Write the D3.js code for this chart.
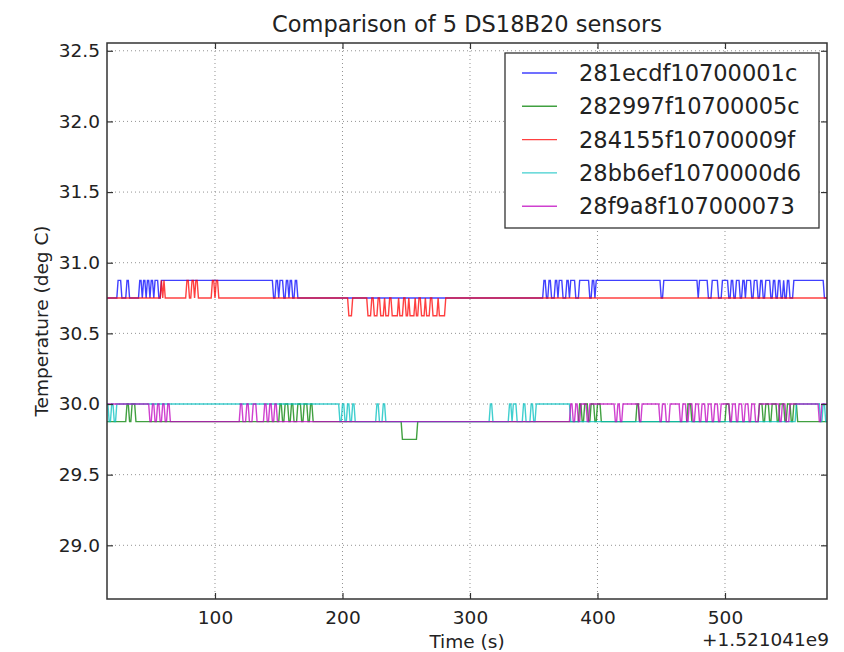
<!DOCTYPE html>
<html>
  <head>
    <meta charset="utf-8">
    <script src="https://d3js.org/d3.v7.min.js"></script>
    <style>
      body { margin: 0; background: #fff; }
      text { font-family: "DejaVu Sans", sans-serif; fill: #222; }
    </style>
  </head>
  <body>
    <svg id="vis"></svg>
  <script>
    // Sensor ids, in plotting order, and their matplotlib classic colours
    var sensors = ["281ecdf10700001c", "282997f10700005c", "284155f10700009f", "28bb6ef1070000d6", "28f9a8f107000073"]
    var colors = ["#0000ff", "#008000", "#ff0000", "#00bfbf", "#bf00bf"]

    var xTicks = [100, 200, 300, 400, 500]
    var yTicks = [29.0, 29.5, 30.0, 30.5, 31.0, 31.5, 32.0, 32.5]
    var xDomain = [15.3, 580]
    var yDomain = [28.62, 32.555]

    // readings as held segments: [t start, t end, temperature] (t = seconds after 1.521041e9)
    var blue = [[15,23,30.75],[24,26,30.875],[27,30,30.75],[31,32,30.875],[33,40,30.75],[41,42,30.875],[43,43,30.75],[44,45,30.875],[46,46,30.75],[47,48,30.875],[49,49,30.75],[50,51,30.875],[52,52,30.75],[53,55,30.875],[56,57,30.75],[58,145,30.875],[146,147,30.75],[148,149,30.875],[150,150,30.75],[151,153,30.875],[154,155,30.75],[156,157,30.875],[158,158,30.75],[159,160,30.875],[161,162,30.75],[163,164,30.875],[165,357,30.75],[358,359,30.875],[360,361,30.75],[362,363,30.875],[364,366,30.75],[367,368,30.875],[369,369,30.75],[370,372,30.875],[373,375,30.75],[376,377,30.875],[378,378,30.75],[379,382,30.875],[383,385,30.75],[386,393,30.875],[394,395,30.75],[396,397,30.875],[398,398,30.75],[399,449,30.875],[450,451,30.75],[452,478,30.875],[479,479,30.75],[480,486,30.875],[487,489,30.75],[490,494,30.875],[495,497,30.75],[498,502,30.875],[503,504,30.75],[505,506,30.875],[507,508,30.75],[509,511,30.875],[512,513,30.75],[514,515,30.875],[516,516,30.75],[517,520,30.875],[521,522,30.75],[523,525,30.875],[526,527,30.75],[528,529,30.875],[530,531,30.75],[532,535,30.875],[536,537,30.75],[538,539,30.875],[540,541,30.75],[542,543,30.875],[544,545,30.75],[546,546,30.875],[547,548,30.75],[549,550,30.875],[551,553,30.75],[554,577,30.875],[578,580,30.75]]
    var green = [[15,30,29.875],[31,32,30.0],[33,34,29.875],[35,37,30.0],[38,150,29.875],[151,152,30.0],[153,154,29.875],[155,157,30.0],[158,159,29.875],[160,161,30.0],[162,164,29.875],[165,167,30.0],[168,169,29.875],[170,172,30.0],[173,174,29.875],[175,176,30.0],[177,246,29.875],[247,258,29.75],[259,385,29.875],[386,387,30.0],[388,389,29.875],[390,392,30.0],[393,394,29.875],[395,397,30.0],[398,399,29.875],[400,402,30.0],[403,430,29.875],[431,432,30.0],[433,470,29.875],[471,473,30.0],[474,500,29.875],[501,503,30.0],[504,526,29.875],[527,529,30.0],[530,531,29.875],[532,534,30.0],[535,536,29.875],[537,540,30.0],[541,542,29.875],[543,546,30.0],[547,548,29.875],[549,551,30.0],[552,553,29.875],[554,556,30.0],[557,580,29.875]]
    var red = [[15,57,30.75],[58,58,30.875],[59,59,30.75],[60,60,30.875],[61,77,30.75],[78,79,30.875],[80,81,30.75],[82,83,30.875],[84,84,30.75],[85,86,30.875],[87,97,30.75],[98,99,30.875],[100,100,30.75],[101,102,30.875],[103,204,30.75],[205,207,30.625],[208,219,30.75],[220,222,30.625],[223,224,30.75],[225,227,30.625],[228,229,30.75],[230,232,30.625],[233,233,30.75],[234,236,30.625],[237,238,30.75],[239,243,30.625],[244,244,30.75],[245,247,30.625],[248,249,30.75],[250,251,30.625],[252,252,30.75],[253,256,30.625],[257,257,30.75],[258,259,30.625],[260,261,30.75],[262,264,30.625],[265,265,30.75],[266,268,30.625],[269,270,30.75],[271,274,30.625],[275,275,30.75],[276,280,30.625],[281,580,30.75]]
    var cyan = [[15,16,30.0],[17,18,29.875],[19,20,30.0],[21,22,29.875],[23,197,30.0],[198,199,29.875],[200,201,30.0],[202,203,29.875],[204,205,30.0],[206,207,29.875],[208,209,30.0],[210,226,29.875],[227,228,30.0],[229,231,29.875],[232,233,30.0],[234,315,29.875],[316,317,30.0],[318,330,29.875],[331,332,30.0],[333,333,29.875],[334,336,30.0],[337,341,29.875],[342,343,30.0],[344,347,29.875],[348,349,30.0],[350,351,29.875],[352,378,30.0],[379,555,29.875],[556,574,30.0],[575,576,29.875],[577,578,30.0],[579,580,29.875]]
    var magenta = [[15,48,30.0],[49,50,29.875],[51,52,30.0],[53,54,29.875],[55,56,30.0],[57,58,29.875],[59,60,30.0],[61,62,29.875],[63,64,30.0],[65,119,29.875],[120,121,30.0],[122,124,29.875],[125,126,30.0],[127,129,29.875],[130,132,30.0],[133,138,29.875],[139,140,30.0],[141,142,29.875],[143,144,30.0],[145,146,29.875],[147,148,30.0],[149,378,29.875],[379,380,30.0],[381,382,29.875],[383,384,30.0],[385,386,29.875],[387,391,30.0],[392,393,29.875],[394,413,30.0],[414,415,29.875],[416,417,30.0],[418,419,29.875],[420,432,30.0],[433,434,29.875],[435,448,30.0],[449,450,29.875],[451,453,30.0],[454,456,29.875],[457,464,30.0],[465,466,29.875],[467,469,30.0],[470,471,29.875],[472,474,30.0],[475,476,29.875],[477,479,30.0],[480,481,29.875],[482,484,30.0],[485,486,29.875],[487,489,30.0],[490,491,29.875],[492,494,30.0],[495,496,29.875],[497,503,30.0],[504,505,29.875],[506,508,30.0],[509,510,29.875],[511,513,30.0],[514,515,29.875],[516,518,30.0],[519,520,29.875],[521,523,30.0],[524,526,29.875],[527,542,30.0],[543,544,29.875],[545,547,30.0],[548,550,29.875],[551,573,30.0],[574,575,29.875],[576,580,30.0]]
    var series = [blue, green, red, cyan, magenta]

    // figure layout
    var W = 844, H = 652
    var margin = {top: 43, right: 17, bottom: 53, left: 107}
    var width = W - margin.left - margin.right
    var height = H - margin.top - margin.bottom

    var svg = d3.select("#vis").attr("width", W).attr("height", H)
    svg.append("rect").attr("width", W).attr("height", H).attr("fill", "#fff")
    var g = svg.append("g").attr("transform", "translate(" + margin.left + "," + margin.top + ")")

    var x = d3.scaleLinear().domain(xDomain).range([0, width])
    var y = d3.scaleLinear().domain(yDomain).range([height, 0])

    // dotted grid
    g.selectAll("line.gx").data(xTicks).enter().append("line")
      .attr("x1", d => x(d)).attr("x2", d => x(d)).attr("y1", 0).attr("y2", height)
      .attr("stroke", "#777").attr("stroke-width", 0.8).attr("stroke-dasharray", "1,3")
    g.selectAll("line.gy").data(yTicks).enter().append("line")
      .attr("y1", d => y(d)).attr("y2", d => y(d)).attr("x1", 0).attr("x2", width)
      .attr("stroke", "#777").attr("stroke-width", 0.8).attr("stroke-dasharray", "1,3")

    // data lines
    var line = d3.line().x(d => x(d[0])).y(d => y(d[1]))
    g.append("clipPath").attr("id", "clip").append("rect").attr("width", width).attr("height", height)
    series.forEach(function(s, i) {
      var pts = []
      s.forEach(function(seg) { pts.push([seg[0], seg[2]]); pts.push([seg[1], seg[2]]) })
      g.append("path").datum(pts)
        .attr("d", line)
        .attr("fill", "none")
        .attr("stroke", colors[i])
        .attr("stroke-width", 1.4)
        .attr("stroke-opacity", 0.75)
        .attr("clip-path", "url(#clip)")
    })

    // axes: classic inward ticks on all four sides
    var tickFont = "18.5px"
    var bottomAxis = g.append("g").attr("transform", "translate(0," + height + ")")
      .call(d3.axisBottom(x).tickValues(xTicks).tickSizeInner(-6).tickSizeOuter(0).tickPadding(12).tickFormat(d3.format("d")))
    g.append("g").call(d3.axisTop(x).tickValues(xTicks).tickSizeInner(-6).tickSizeOuter(0).tickFormat(""))
    var leftAxis = g.append("g")
      .call(d3.axisLeft(y).tickValues(yTicks).tickSizeInner(-6).tickSizeOuter(0).tickPadding(7).tickFormat(d3.format(".1f")))
    g.append("g").attr("transform", "translate(" + width + ",0)")
      .call(d3.axisRight(y).tickValues(yTicks).tickSizeInner(-6).tickSizeOuter(0).tickFormat(""))
    g.selectAll(".domain").remove()
    g.selectAll(".tick line").attr("stroke", "#333").attr("stroke-width", 1.2)
    g.selectAll(".tick text").style("font-size", tickFont).style("font-family", "DejaVu Sans").attr("fill", "#222")

    g.append("rect").attr("width", width).attr("height", height)
      .attr("fill", "none").attr("stroke", "#333").attr("stroke-width", 1.5)

    // title and labels
    svg.append("text").attr("x", margin.left + width / 2).attr("y", 32)
      .attr("text-anchor", "middle").style("font-size", "22.5px")
      .text("Comparison of 5 DS18B20 sensors")
    svg.append("text").attr("x", margin.left + width / 2).attr("y", 648)
      .attr("text-anchor", "middle").style("font-size", tickFont)
      .text("Time (s)")
    svg.append("text").attr("x", margin.left + width + 2).attr("y", 646)
      .attr("text-anchor", "end").style("font-size", tickFont)
      .text("+1.521041e9")
    svg.append("text")
      .attr("transform", "translate(48," + (margin.top + height / 2) + ") rotate(-90)")
      .attr("text-anchor", "middle").style("font-size", tickFont)
      .text("Temperature (deg C)")

    // legend, upper right
    var lg = svg.append("g").attr("transform", "translate(505,53)")
    lg.append("rect").attr("width", 314).attr("height", 175)
      .attr("fill", "#fff").attr("stroke", "#333").attr("stroke-width", 1.3)
    sensors.forEach(function(name, i) {
      var yy = 20 + i * 33.3
      lg.append("line").attr("x1", 17).attr("x2", 52).attr("y1", yy).attr("y2", yy)
        .attr("stroke", colors[i]).attr("stroke-width", 1.4).attr("stroke-opacity", 0.75)
      lg.append("text").attr("x", 74).attr("y", yy + 8).style("font-size", "22.5px").text(name)
    })
  </script>
  </body>
</html>
